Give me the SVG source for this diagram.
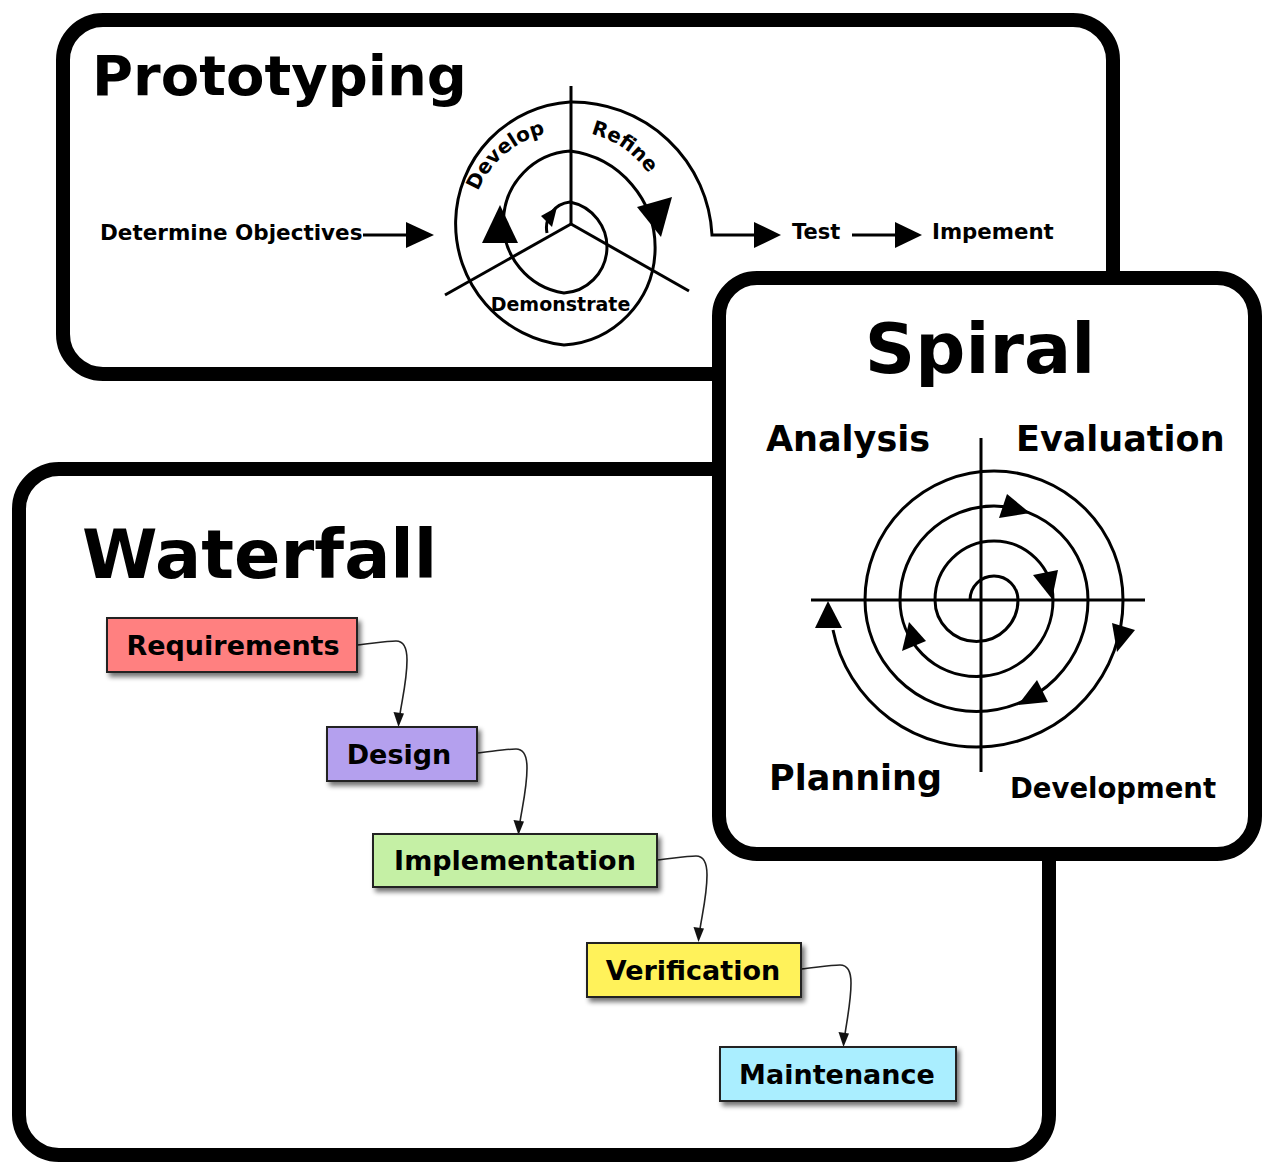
<svg xmlns="http://www.w3.org/2000/svg" width="1264" height="1164" viewBox="0 0 1264 1164">
<style>
text{font-family:"DejaVu Sans","Liberation Sans",sans-serif;font-weight:bold;fill:#000}
.frame{fill:#fff;stroke:#000;stroke-width:14}
.ln{fill:none;stroke:#000;stroke-width:3}
.ah{fill:#000;stroke:none}
.box{stroke:#222;stroke-width:2;filter:url(#sh)}
.con{fill:none;stroke:#222;stroke-width:1.6}
.cah{fill:#111}
</style>
<defs>
<filter id="sh" x="-10%" y="-20%" width="125%" height="160%">
<feGaussianBlur in="SourceAlpha" stdDeviation="2.5"/>
<feOffset dx="3" dy="4" result="b"/>
<feComponentTransfer><feFuncA type="linear" slope="0.55"/></feComponentTransfer>
<feMerge><feMergeNode/><feMergeNode in="SourceGraphic"/></feMerge>
</filter>
<path id="arcTop" d="M 471 228 A 97 97 0 0 1 665 228"/>
</defs>

<g id="prototyping">
<rect class="frame" x="63" y="20" width="1050" height="354" rx="40"/>
<text x="92" y="95" font-size="56">Prototyping</text>
<line class="ln" x1="571" y1="86" x2="571" y2="224"/>
<line class="ln" x1="571" y1="224" x2="445" y2="295"/>
<line class="ln" x1="571" y1="224" x2="689" y2="291"/>
<path class="ln" d="M 547 233 A 26 26 0 0 1 570 202 A 46 46 0 0 1 564 293 A 71.5 71.5 0 0 1 570 151 A 97.5 97.5 0 0 1 564 345 A 122 122 0 0 1 570 102 A 140 140 0 0 1 712 235 L 758 235"/>
<polygon class="ah" points="557,207 541,216 552,227"/>
<polygon class="ah" points="500,205 482,243 518,243"/>
<polygon class="ah" points="637,207 672,197 661,237"/>
<text font-size="20"><textPath href="#arcTop" startOffset="27.4%" text-anchor="middle">Develop</textPath></text>
<text font-size="20"><textPath href="#arcTop" startOffset="69.3%" text-anchor="middle">Refine</textPath></text>
<text x="560.5" y="311" font-size="19" text-anchor="middle">Demonstrate</text>
<text x="100" y="240" font-size="21.5">Determine Objectives</text>
<line class="ln" x1="363" y1="235" x2="410" y2="235"/>
<polygon class="ah" points="434,235 406,222 406,248"/>
<polygon class="ah" points="781,235 754,222 754,248"/>
<text x="792" y="239" font-size="21">Test</text>
<line class="ln" x1="852" y1="235" x2="898" y2="235"/>
<polygon class="ah" points="922,235 895,222 895,248"/>
<text x="932" y="239" font-size="21.3">Impement</text>
</g>

<g id="waterfall">
<rect class="frame" x="19" y="469" width="1030" height="686" rx="40"/>
<text x="82" y="578" font-size="68.5">Waterfall</text>
</g>

<g id="connectors">
<path class="con" d="M 357 645 C 375 643, 388 641, 396 641 C 404 641, 407 648, 407 660 C 407 680, 402 700, 400 714"/>
<polygon class="cah" points="398.5,727 393.5,712 404,713.5"/>
<path class="con" d="M 477 753 C 495 751, 508 749, 516 749 C 524 749, 527 756, 527 768 C 527 788, 522 808, 520 822"/>
<polygon class="cah" points="518.5,835 513.5,820 524,821.5"/>
<path class="con" d="M 657 860 C 675 858, 688 856, 696 856 C 704 856, 707 863, 707 875 C 707 895, 702 915, 700 929"/>
<polygon class="cah" points="698.5,942 693.5,927 704,928.5"/>
<path class="con" d="M 801 969 C 819 967, 832 965, 840 965 C 848 965, 851 972, 851 983 C 851 1001, 847 1020, 845 1034"/>
<polygon class="cah" points="843.5,1047 838.5,1032 849,1033.5"/>
</g>

<g id="requirements">
<rect class="box" x="107" y="618" width="250" height="54" fill="#ff8080"/>
<text x="233" y="655" font-size="27" text-anchor="middle">Requirements</text>
</g>
<g id="design">
<rect class="box" x="327" y="727" width="150" height="54" fill="#b4a0ee"/>
<text x="399" y="764" font-size="27" text-anchor="middle">Design</text>
</g>
<g id="implementation">
<rect class="box" x="373" y="834" width="284" height="53" fill="#c5f0a5"/>
<text x="515" y="870" font-size="27" text-anchor="middle">Implementation</text>
</g>
<g id="verification">
<rect class="box" x="587" y="943" width="214" height="54" fill="#fff25a"/>
<text x="693" y="980" font-size="27" text-anchor="middle">Verification</text>
</g>
<g id="maintenance">
<rect class="box" x="720" y="1047" width="236" height="54" fill="#aaeeff"/>
<text x="837" y="1084" font-size="27" text-anchor="middle">Maintenance</text>
</g>

<g id="spiral">
<rect class="frame" x="719" y="278" width="536" height="576" rx="38"/>
<text x="980" y="373" font-size="70" text-anchor="middle">Spiral</text>
<text x="766" y="451" font-size="35">Analysis</text>
<text x="1016" y="451" font-size="35">Evaluation</text>
<text x="769" y="790" font-size="35">Planning</text>
<text x="1010" y="798" font-size="27.5">Development</text>
<line class="ln" x1="981" y1="438" x2="981" y2="772"/>
<line class="ln" x1="811" y1="600" x2="1145" y2="600"/>
<path class="ln" d="M 970 600 A 24 24 0 0 1 1018 600 A 41.5 41.5 0 0 1 935 600 A 59 59 0 0 1 1053 600 A 76.5 76.5 0 0 1 900 600 A 94 94 0 0 1 1088 600 A 111.5 111.5 0 0 1 865 600 A 129 129 0 0 1 1123 600 A 146.5 146.5 0 0 1 833 630"/>
<polygon class="ah" points="1007,494 999,518 1030,513"/>
<polygon class="ah" points="1033,575 1058,570 1052,599"/>
<polygon class="ah" points="1112,623 1135,630 1117,652"/>
<polygon class="ah" points="1037,680 1048,702 1018,705"/>
<polygon class="ah" points="909,622 902,651 926,641"/>
<polygon class="ah" points="828,601 815,628 842,628"/>
</g>
</svg>
